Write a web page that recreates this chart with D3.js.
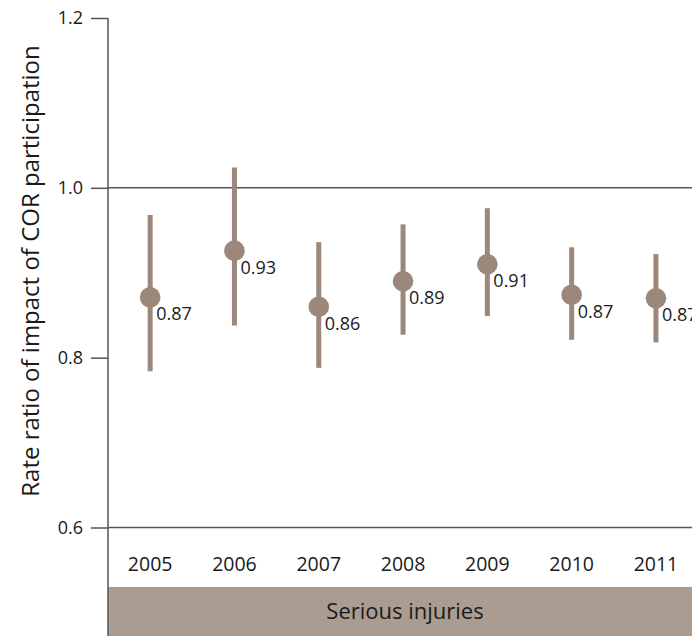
<!DOCTYPE html>
<html>
<head>
<meta charset="utf-8">
<script src="https://cdn.jsdelivr.net/npm/d3@7"></script>
<style>
  html, body { margin: 0; padding: 0; background: #fff; }
  svg { display: block; font-family: "Open Sans", sans-serif; }
</style>
</head>
<body>
<svg id="chart" width="692" height="636"></svg>
<script>
// ---- data ----
const years = ["2005", "2006", "2007", "2008", "2009", "2010", "2011"];
const rateRatio = [0.871, 0.926, 0.860, 0.890, 0.910, 0.874, 0.870];
const ciLower = [0.784, 0.838, 0.788, 0.827, 0.849, 0.821, 0.818];
const ciUpper = [0.968, 1.024, 0.936, 0.957, 0.976, 0.930, 0.922];
const yTicks = [0.6, 0.8, 1.0, 1.2];
const gridValues = [0.6, 1.0];
const groupLabel = "Serious injuries";
const yTitle = "Rate ratio of impact of COR participation";

const W = 692, H = 636;
const axisX = 108;
const markColor = "#9c877b";
const bandColor = "#ab9c92";
const lineColor = "#555555";
const textColor = "#1a1a1a";

const svg = d3.select("#chart");

const x = d3.scaleBand().domain(years).range([axisX, axisX + 7 * 84.3]).padding(0);
const y = d3.scaleLinear().domain([0.6, 1.2]).range([527.5, 18]);

// group band
svg.append("rect")
  .attr("x", axisX).attr("y", 587)
  .attr("width", W - axisX).attr("height", H - 587)
  .attr("fill", bandColor);
svg.append("text")
  .attr("x", 405).attr("y", 619)
  .attr("text-anchor", "middle")
  .attr("font-size", 22)
  .attr("fill", textColor)
  .text(groupLabel);

// y axis ticks
const yAxis = d3.axisLeft(y).tickValues(yTicks).tickSize(17).tickPadding(8)
  .tickFormat(d3.format(".1f"));
const gy = svg.append("g").attr("transform", `translate(${axisX},0)`).call(yAxis);
gy.select(".domain").remove();
gy.selectAll(".tick line").attr("stroke", lineColor).attr("stroke-width", 1.5);
gy.selectAll(".tick text").attr("font-size", 18).attr("fill", textColor)
  .attr("font-family", "'Open Sans', sans-serif");

// gridlines
svg.append("g").selectAll("line").data(gridValues).join("line")
  .attr("x1", axisX).attr("x2", W)
  .attr("y1", d => y(d)).attr("y2", d => y(d))
  .attr("stroke", lineColor).attr("stroke-width", 1.5);

// vertical axis line
svg.append("line")
  .attr("x1", axisX).attr("x2", axisX)
  .attr("y1", y(1.2)).attr("y2", H)
  .attr("stroke", lineColor).attr("stroke-width", 1.5);

// x labels
const xAxis = d3.axisBottom(x).tickSize(0).tickPadding(0);
const gx = svg.append("g").attr("transform", `translate(0,${571})`).call(xAxis);
gx.select(".domain").remove();
gx.selectAll(".tick text").attr("dy", 0).attr("font-size", 19.5).attr("fill", textColor)
  .attr("font-family", "'Open Sans', sans-serif");

// marks
const data = years.map((yr, i) => ({ yr, v: rateRatio[i], lo: ciLower[i], hi: ciUpper[i] }));
const cx = d => x(d.yr) + x.bandwidth() / 2;
const g = svg.append("g");
g.selectAll("line.ci").data(data).join("line")
  .attr("class", "ci")
  .attr("x1", cx).attr("x2", cx)
  .attr("y1", d => y(d.lo)).attr("y2", d => y(d.hi))
  .attr("stroke", markColor).attr("stroke-width", 5);
g.selectAll("circle").data(data).join("circle")
  .attr("cx", cx).attr("cy", d => y(d.v)).attr("r", 10.3)
  .attr("fill", markColor);
g.selectAll("text.val").data(data).join("text")
  .attr("class", "val")
  .attr("x", d => cx(d) + 6).attr("y", d => y(d.v) + 23)
  .attr("font-size", 18).attr("fill", textColor)
  .text(d => d3.format(".2f")(d.v));

// y title
svg.append("text")
  .attr("transform", `translate(39,${271}) rotate(-90)`)
  .attr("text-anchor", "middle")
  .attr("font-size", 24).attr("fill", textColor)
  .text(yTitle);
</script>
</body>
</html>
